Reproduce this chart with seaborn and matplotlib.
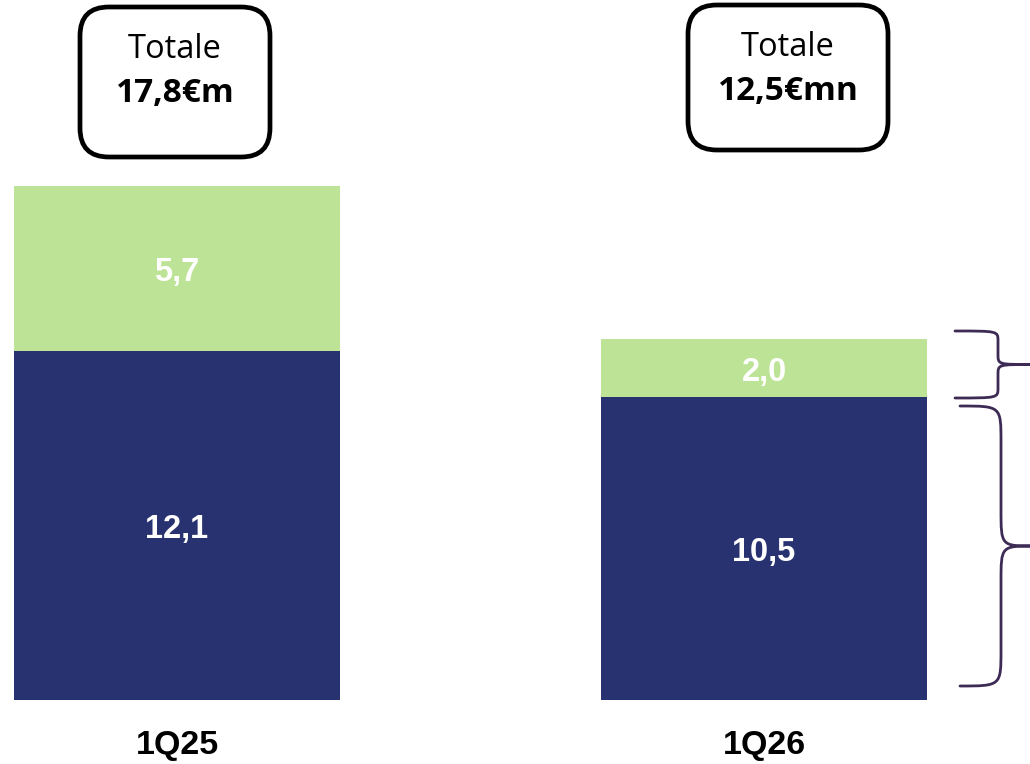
import matplotlib
matplotlib.use("Agg")
import matplotlib.pyplot as plt
import seaborn as sns
import pandas as pd
import numpy as np
from matplotlib.patches import FancyBboxPatch, PathPatch
from matplotlib.path import Path

# Quarterly values (€ mn)
quarters = ["1Q25", "1Q26"]
base_values = [12.1, 10.5]
top_values = [5.7, 2.0]
totals_text = ["17,8€m", "12,5€mn"]

NAVY = "#283270"
GREEN = "#bde396"
BRACE = "#3d2b56"

sns.set_theme(style="white")
plt.rcParams["font.family"] = ["Liberation Sans", "DejaVu Sans"]

df = pd.DataFrame({"quarter": quarters, "base": base_values, "top": top_values})
df["total"] = df["base"] + df["top"]

fig = plt.figure(figsize=(10.30, 7.64), dpi=100)
ax = fig.add_axes([0, 64 / 764, 1, 700 / 764])

bar_w = 0.555
sns.barplot(data=df, x="quarter", y="total", color=GREEN, width=bar_w,
            saturation=1, linewidth=0, ax=ax)
sns.barplot(data=df, x="quarter", y="base", color=NAVY, width=bar_w,
            saturation=1, linewidth=0, ax=ax)

ax.set_xlim(-177 / 587, (1030 - 177) / 587)
ax.set_ylim(0, 700 / 28.87)
ax.axis("off")

# segment value labels
for i, (b, t) in enumerate(zip(base_values, top_values)):
    for yv, val in ((b / 2, b), (b + t / 2, t)):
        ax.annotate(f"{val:.1f}".replace(".", ","), xy=(i, yv),
                    xytext=(0, -3), textcoords="offset points",
                    ha="center", va="center", color="white",
                    fontsize=23.5, fontweight="bold")

# category labels under the bars
for i, q in enumerate(quarters):
    ax.annotate(q, xy=(i, 0), xytext=(0, -33), textcoords="offset points",
                ha="center", va="center", fontsize=24.5,
                fontweight="bold", color="black", annotation_clip=False)

# rounded total boxes above each bar
box_specs = [(80, 7, 190, 150), (688, 5, 200, 145)]
for (x0, y0, w, h), tt in zip(box_specs, totals_text):
    fx, fy = x0 / 1030, 1 - (y0 + h) / 764
    fw, fh = w / 1030, h / 764
    box = FancyBboxPatch((fx, fy), fw, fh, transform=fig.transFigure,
                         boxstyle="round,pad=0,rounding_size=0.028",
                         mutation_aspect=1030 / 764,
                         facecolor="white", edgecolor="black", linewidth=3.4)
    fig.patches.append(box)
    cx = fx + fw / 2
    fig.text(cx, 1 - (y0 + 42) / 764, "Totale", ha="center", va="center",
             fontsize=23.5, family=["Open Sans", "DejaVu Sans"], color="black")
    fig.text(cx, 1 - (y0 + 87) / 764, tt, ha="center", va="center",
             fontsize=24, fontweight="bold",
             family=["Open Sans", "DejaVu Sans"], color="black")


def brace(y_top, y_bot, x_left, x_mid, x_tip, r):
    """Right-facing curly brace in pixel coordinates (y grows downward)."""
    ym = (y_top + y_bot) / 2
    verts = [
        (x_left, y_top),
        (x_mid, y_top), (x_mid, y_top), (x_mid, y_top + r),
        (x_mid, ym - r),
        (x_mid, ym), (x_mid, ym), (x_tip, ym),
        (x_tip, ym),
        (x_mid, ym), (x_mid, ym), (x_mid, ym + r),
        (x_mid, y_bot - r),
        (x_mid, y_bot), (x_mid, y_bot), (x_left, y_bot),
    ]
    codes = [Path.MOVETO,
             Path.CURVE4, Path.CURVE4, Path.CURVE4,
             Path.LINETO,
             Path.CURVE4, Path.CURVE4, Path.CURVE4,
             Path.MOVETO,
             Path.CURVE4, Path.CURVE4, Path.CURVE4,
             Path.LINETO,
             Path.CURVE4, Path.CURVE4, Path.CURVE4]
    conv = [(x / 1030, 1 - y / 764) for x, y in verts]
    return PathPatch(Path(conv, codes), transform=fig.transFigure,
                     facecolor="none", edgecolor=BRACE, linewidth=2.0,
                     capstyle="round", clip_on=False)


fig.patches.append(brace(331, 398, 955, 998, 1032, 10))
fig.patches.append(brace(406, 686, 960, 1001, 1034, 36))

fig.savefig("out.png", dpi=100, facecolor="white")
